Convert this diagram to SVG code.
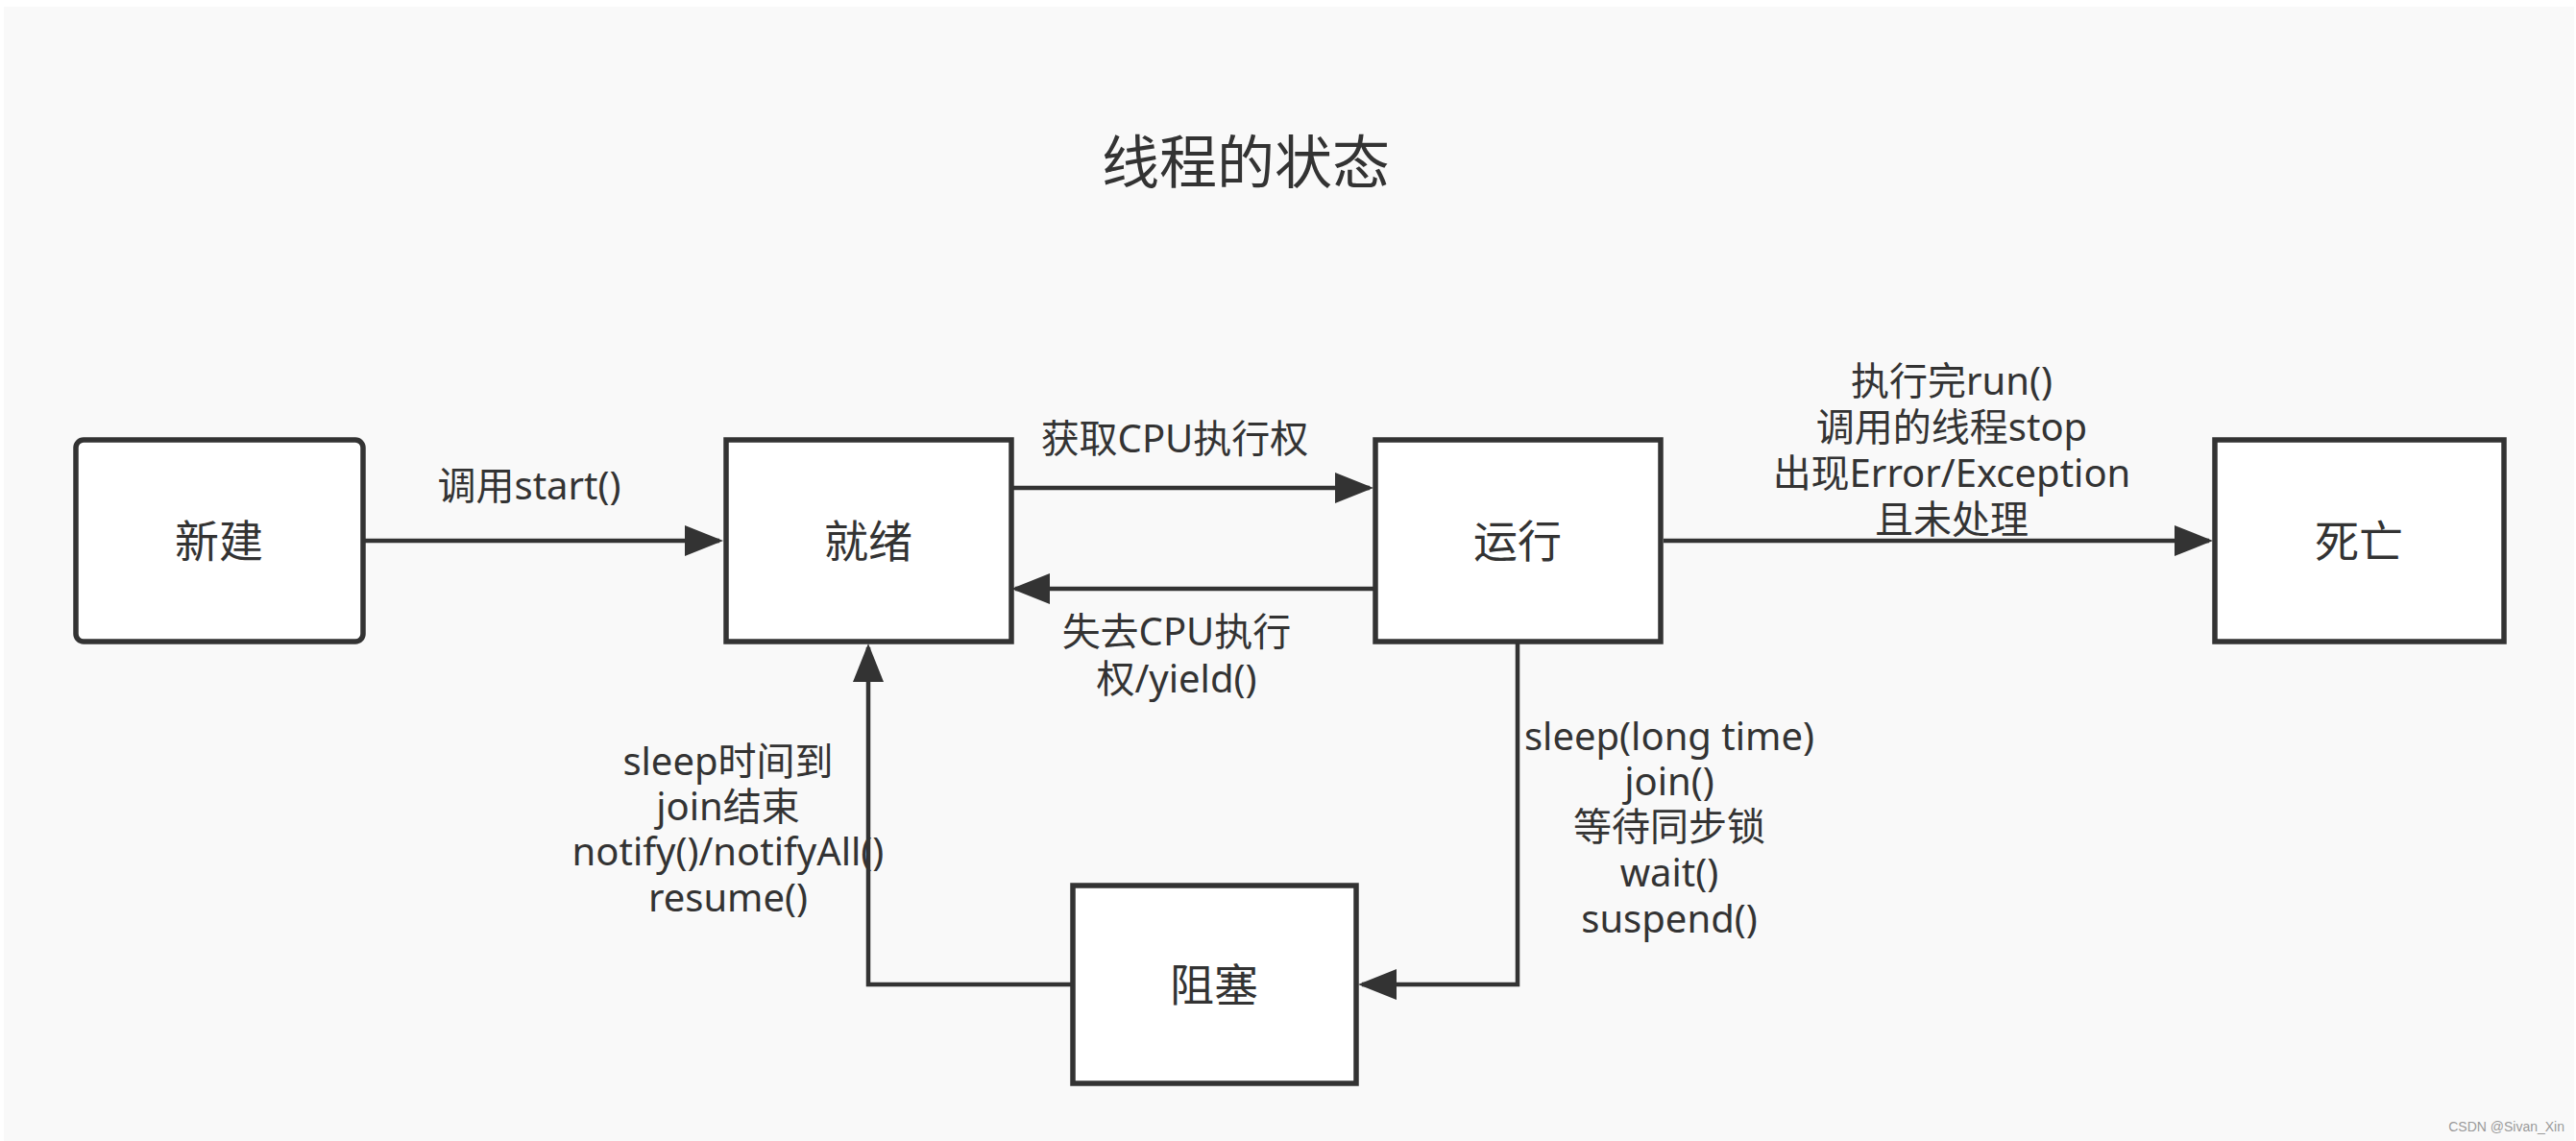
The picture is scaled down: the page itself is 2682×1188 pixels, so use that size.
<svg xmlns="http://www.w3.org/2000/svg" width="2682" height="1188" viewBox="0 0 2682 1188">
<style>
.node{fill:#ffffff;stroke:#333333;stroke-width:5.5}
.nlabel{font-family:"Noto Sans","Noto Sans CJK SC",sans-serif;font-size:46px;fill:#333333;text-anchor:middle}
.elabel{font-family:"Noto Sans","Noto Sans CJK SC",sans-serif;font-size:40px;fill:#333333;text-anchor:middle}
.edge{fill:none;stroke:#333333;stroke-width:4.5}
</style>
<defs>
<marker id="arr" markerUnits="userSpaceOnUse" markerWidth="42" markerHeight="32" refX="36" refY="16" orient="auto" viewBox="0 0 42 32">
<path d="M0,0 L40,16 L0,32 z" fill="#333333"/>
</marker>
</defs>
<rect x="0" y="0" width="2682" height="1188" fill="#ffffff"/>
<rect x="4" y="7" width="2676" height="1181" fill="#f9f9f9"/>
<text x="1297" y="191" font-family="Noto Sans CJK SC, sans-serif" font-size="60" fill="#333333" text-anchor="middle">线程的状态</text>

<g id="connectors">
<path class="edge" d="M378,563 H749" marker-end="url(#arr)"/>
<path class="edge" d="M1055,508 H1426" marker-end="url(#arr)"/>
<path class="edge" d="M1432,613 H1057" marker-end="url(#arr)"/>
<path class="edge" d="M1732,563 H2300" marker-end="url(#arr)"/>
<path class="edge" d="M1580,670 V1025 H1418" marker-end="url(#arr)"/>
<path class="edge" d="M1116,1025 H904 V674" marker-end="url(#arr)"/>
<text class="elabel" x="551" y="520">调用start()</text>
<text class="elabel" x="1223" y="471">获取CPU执行权</text>
<text class="elabel" x="1225" y="672">失去CPU执行<tspan x="1225" dy="49">权/yield()</tspan></text>
<text class="elabel" x="2032" y="411">执行完run()<tspan x="2032" dy="48">调用的线程stop</tspan><tspan x="2032" dy="48">出现Error/Exception</tspan><tspan x="2032" dy="48">且未处理</tspan></text>
<text class="elabel" x="758" y="807">sleep时间到<tspan x="758" dy="47">join结束</tspan><tspan x="758" dy="47">notify()/notifyAll()</tspan><tspan x="758" dy="48">resume()</tspan></text>
<text class="elabel" x="1738" y="781">sleep(long time)<tspan x="1738" dy="47">join()</tspan><tspan x="1738" dy="47">等待同步锁</tspan><tspan x="1738" dy="48">wait()</tspan><tspan x="1738" dy="48">suspend()</tspan></text>
</g>

<g id="node-new">
<rect class="node" x="79" y="458" width="299" height="210" rx="8"/>
<text class="nlabel" x="228" y="580">新建</text>
</g>
<g id="node-ready">
<rect class="node" x="756" y="458" width="297" height="210"/>
<text class="nlabel" x="904" y="580">就绪</text>
</g>
<g id="node-running">
<rect class="node" x="1432" y="458" width="297" height="210"/>
<text class="nlabel" x="1580" y="580">运行</text>
</g>
<g id="node-dead">
<rect class="node" x="2306" y="458" width="301" height="210"/>
<text class="nlabel" x="2456" y="580">死亡</text>
</g>
<g id="node-blocked">
<rect class="node" x="1117" y="922" width="295" height="206"/>
<text class="nlabel" x="1264" y="1042">阻塞</text>
</g>

<text x="2670" y="1178" font-family="Liberation Sans, Arial, sans-serif" font-size="14" fill="#999999" text-anchor="end">CSDN @Sivan_Xin</text>
</svg>
